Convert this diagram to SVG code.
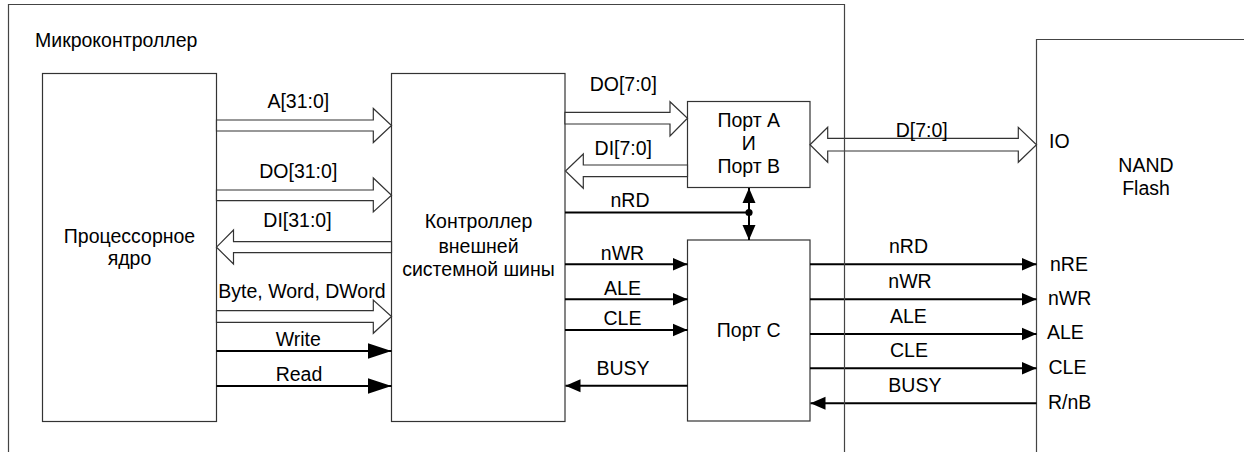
<svg xmlns="http://www.w3.org/2000/svg" width="1244" height="452" viewBox="0 0 1244 452">
<style>
text{font-family:"Liberation Sans",Arial,sans-serif;font-size:19.5px;fill:#000}
.c{text-anchor:middle}
.box{fill:#fff;stroke:#333;stroke-width:1.2}
.frame{fill:none;stroke:#444;stroke-width:1.2}
.bus{fill:#fff;stroke:#333;stroke-width:1.2;stroke-linejoin:miter}
.sig{stroke:#000;stroke-width:2;fill:none}
</style>
<defs>
<marker id="ah" markerUnits="userSpaceOnUse" markerWidth="16" markerHeight="14" refX="15" refY="7" orient="auto">
<path d="M0,0.5 L15,7 L0,13.5 z" fill="#000"/>
</marker>
<marker id="ahb" markerUnits="userSpaceOnUse" markerWidth="25" markerHeight="17" refX="24" refY="8.5" orient="auto">
<path d="M0,0.5 L24,8.5 L0,16.5 z" fill="#000"/>
</marker>
</defs>

<g id="nand">
<path class="frame" d="M1036.5,452 V39.5 H1244"/>
<text class="c" x="1146" y="172.3">NAND</text>
<text class="c" x="1146" y="195">Flash</text>
<text x="1049" y="148.3">IO</text>
<text x="1050" y="271">nRE</text>
<text x="1048" y="305">nWR</text>
<text x="1047" y="339.3">ALE</text>
<text x="1048.5" y="374">CLE</text>
<text x="1048" y="409.3">R/nB</text>
</g>

<g id="cpu">
<rect class="box" x="42.5" y="73.5" width="174" height="348"/>
<text class="c" x="129.5" y="243.3">Процессорное</text>
<text class="c" x="129.5" y="265">ядро</text>
</g>

<g id="ebc">
<rect class="box" x="391.5" y="73.5" width="173.5" height="348"/>
<text class="c" x="478.5" y="228.3">Контроллер</text>
<text class="c" x="478.5" y="253.3">внешней</text>
<text class="c" x="478.5" y="276">системной шины</text>
</g>

<g id="portab">
<rect class="box" x="687.5" y="101.5" width="122.5" height="86"/>
<text class="c" x="748.7" y="126.7">Порт A</text>
<text class="c" x="748.7" y="150">И</text>
<text class="c" x="748.7" y="173.3">Порт B</text>
</g>

<g id="portc">
<rect class="box" x="687.5" y="240" width="122.5" height="181"/>
<text class="c" x="748.7" y="337.3">Порт C</text>
</g>

<g id="connectors">
<polygon class="bus" points="216.5,120 373.3,120 373.3,108.5 391.5,125.5 373.3,142.5 373.3,131 216.5,131"/>
<polygon class="bus" points="216.5,190 373.3,190 373.3,178 391.5,195.3 373.3,212 373.3,200.7 216.5,200.7"/>
<polygon class="bus" points="391.5,241.7 233.5,241.7 233.5,230 216.5,247.2 233.5,264 233.5,252.7 391.5,252.7"/>
<polygon class="bus" points="216.5,310.7 373.3,310.7 373.3,300 391.5,316.5 373.3,333.3 373.3,322.3 216.5,322.3"/>
<polygon class="bus" points="565,112.3 670,112.3 670,101.7 687.5,118.2 670,136 670,124 565,124"/>
<polygon class="bus" points="687.5,165 583.3,165 583.3,154 565.5,171 583.3,188.3 583.3,176.7 687.5,176.7"/>
<polygon class="bus" points="810,144.7 827.7,127.3 827.7,138.3 1018.3,138.3 1018.3,127.3 1036.5,144.7 1018.3,162.3 1018.3,151 827.7,151 827.7,162.3"/>
<line class="sig" x1="216.5" y1="351" x2="391.5" y2="351" marker-end="url(#ahb)"/>
<line class="sig" x1="216.5" y1="386" x2="391.5" y2="386" marker-end="url(#ahb)"/>
<line class="sig" x1="565" y1="212.5" x2="749" y2="212.5"/>
<circle cx="749" cy="212.5" r="3.6" fill="#000"/>
<line class="sig" x1="749" y1="212.5" x2="749" y2="188" marker-end="url(#ah)"/>
<line class="sig" x1="749" y1="212.5" x2="749" y2="240" marker-end="url(#ah)"/>
<line class="sig" x1="565" y1="264.3" x2="687.5" y2="264.3" marker-end="url(#ah)"/>
<line class="sig" x1="565" y1="299.3" x2="687.5" y2="299.3" marker-end="url(#ah)"/>
<line class="sig" x1="565" y1="330" x2="687.5" y2="330" marker-end="url(#ah)"/>
<line class="sig" x1="687.5" y1="385.7" x2="565.5" y2="385.7" marker-end="url(#ah)"/>
<line class="sig" x1="810" y1="264.3" x2="1036.5" y2="264.3" marker-end="url(#ah)"/>
<line class="sig" x1="810" y1="299.3" x2="1036.5" y2="299.3" marker-end="url(#ah)"/>
<line class="sig" x1="810" y1="334" x2="1036.5" y2="334" marker-end="url(#ah)"/>
<line class="sig" x1="810" y1="368.3" x2="1036.5" y2="368.3" marker-end="url(#ah)"/>
<line class="sig" x1="1036.5" y1="403.3" x2="810.5" y2="403.3" marker-end="url(#ah)"/>
<text class="c" x="298.3" y="108.3">A[31:0]</text>
<text class="c" x="298.3" y="178.3">DO[31:0]</text>
<text class="c" x="297.5" y="226.7">DI[31:0]</text>
<text x="218.3" y="298.3">Byte, Word, DWord</text>
<text class="c" x="298.3" y="346">Write</text>
<text class="c" x="299" y="380.7">Read</text>
<text class="c" x="623.3" y="90.7">DO[7:0]</text>
<text class="c" x="623.3" y="155">DI[7:0]</text>
<text class="c" x="630" y="207.3">nRD</text>
<text class="c" x="622.5" y="260">nWR</text>
<text class="c" x="622.5" y="295">ALE</text>
<text class="c" x="622.5" y="325">CLE</text>
<text class="c" x="623" y="375">BUSY</text>
<text class="c" x="921.7" y="136.5">D[7:0]</text>
<text x="889" y="253.3">nRD</text>
<text x="888.3" y="287.7">nWR</text>
<text x="890" y="322.7">ALE</text>
<text x="890" y="357.3">CLE</text>
<text x="888.3" y="391.7">BUSY</text>
</g>

<g id="mcu">
<path class="frame" d="M8.5,452 V4.5 H844.5 V452"/>
<text x="35" y="46.5">Микроконтроллер</text>
</g>
</svg>
